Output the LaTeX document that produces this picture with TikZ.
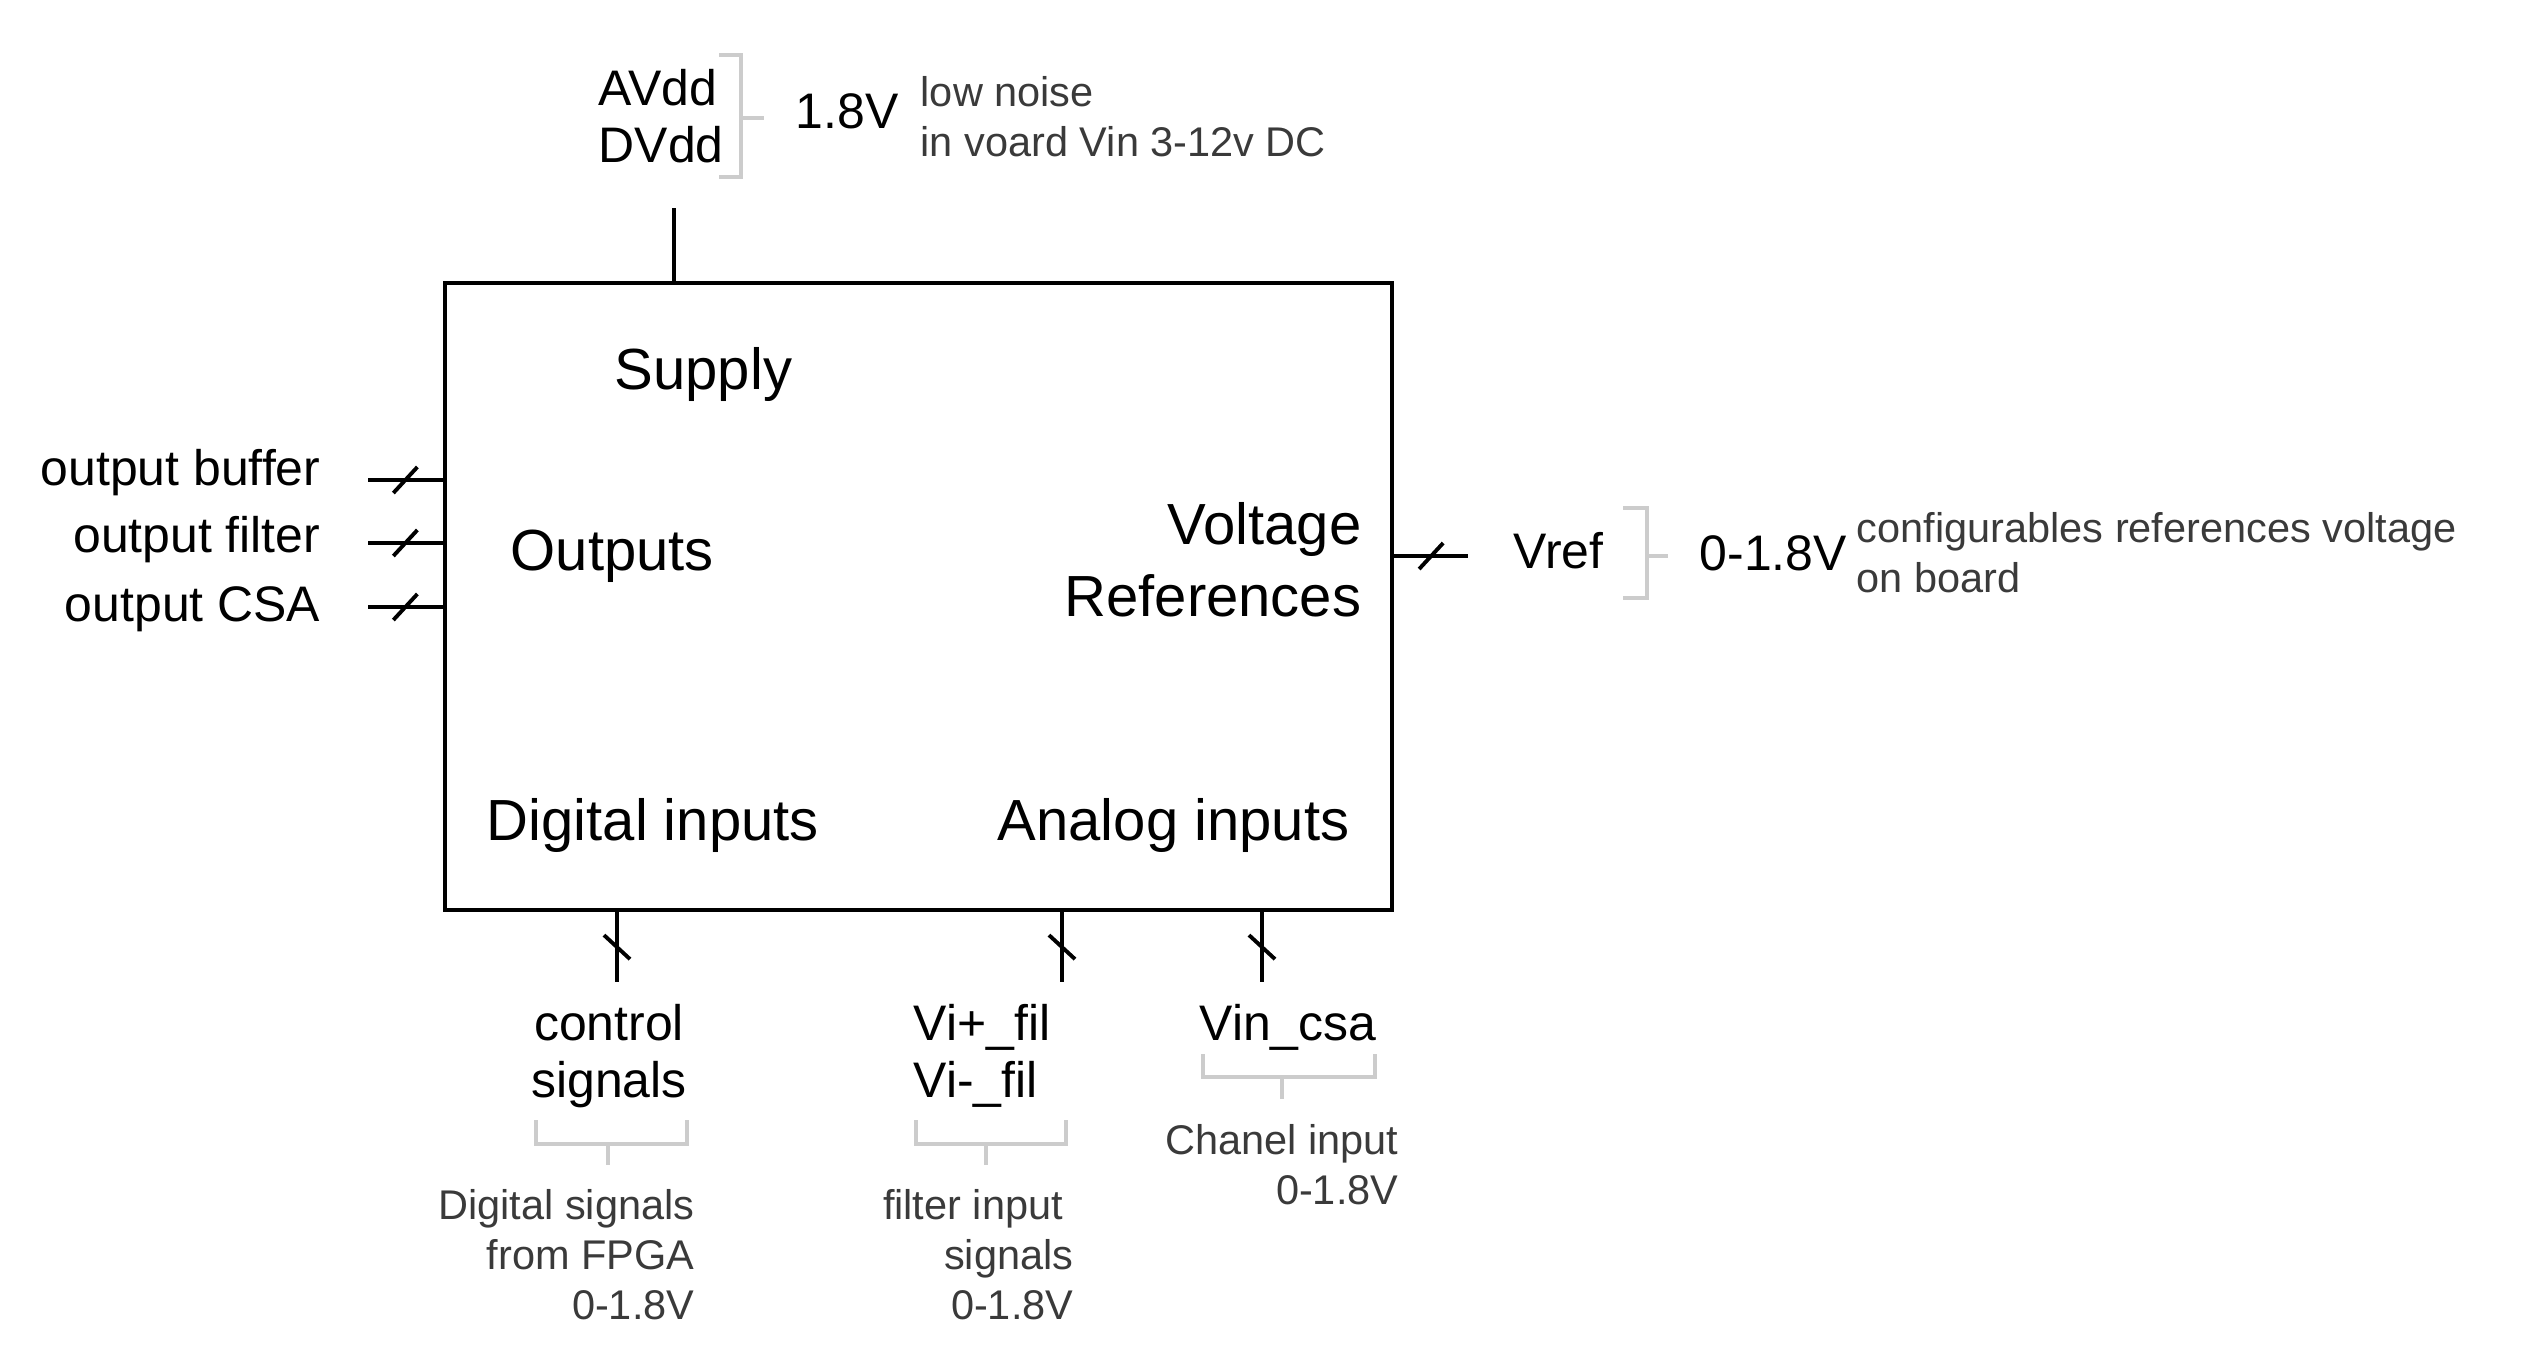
\documentclass[tikz,border=0pt]{standalone}
\usepackage{fontspec}
\setmainfont{Liberation Sans}
\usetikzlibrary{decorations.markings}
\definecolor{notegray}{HTML}{3A3A3A}
\definecolor{bracegray}{HTML}{CCCCCC}

\begin{document}
\begin{tikzpicture}[
    x=0.01cm, y=-0.01cm,
    block/.style={draw=black, line width=1.15pt, minimum width=9.47cm, minimum height=6.27cm, inner sep=0pt},
    wire/.style={line width=1.1pt},
    bus/.style={wire, postaction={decorate, decoration={markings,
        mark=at position 0.5 with {\draw[wire] (-0.12cm,-0.13cm) -- (0.12cm,0.13cm);}}}},
    sig/.style={font=\fontsize{14.2}{16.2}\selectfont, inner sep=0pt},
    part/.style={font=\fontsize{16.5}{20.2}\selectfont, inner sep=0pt},
    note/.style={font=\fontsize{11.8}{14.2}\selectfont, text=notegray, inner sep=0pt},
    brace/.style={draw=bracegray, line width=0.95pt}
]
    \useasboundingbox (0,0) rectangle (2531,1369);

    % --- Main block ---
    \node[block] (box) at (918.5,596.5) {};
    \node[part, anchor=base west] (supply) at (614,389) {Supply};
    \node[part, anchor=base west] (outputs) at (510,570) {Outputs};
    \node[part, anchor=base east, align=right] (refs) at (1362,616) {Voltage\\References};
    \node[part, anchor=base west] (digital) at (486,840) {Digital inputs};
    \node[part, anchor=base east] (analog) at (1350,840) {Analog inputs};

    % --- Supply (top) ---
    \coordinate (sup) at (674,208);
    \draw[wire] (sup) -- (sup |- box.north);
    \node[sig, anchor=base west, align=left] (vdd) at (598,162) {AVdd\\DVdd};
    \draw[brace] (719,55) -| (741,177) -- (719,177);
    \draw[brace] (741,118) -- (764,118);
    \node[sig, anchor=base west] (vdd-val) at (795,128) {1.8V};
    \node[note, anchor=base west, align=left] (vdd-note) at (920,156) {low noise\\in voard Vin 3-12v DC};

    % --- Outputs (left) ---
    \foreach \name/\y/\ty/\txt in {obuf/480/485/output buffer, ofil/543/552/output filter, ocsa/607/621/output CSA} {
        \coordinate (\name) at (368,\y);
        \draw[bus] (\name) -- (\name -| box.west);
        \node[sig, anchor=base east] (\name-lbl) at (321,\ty) {\txt};
    }

    % --- Voltage references (right) ---
    \coordinate (vout) at (1468,556);
    \draw[bus] (vout -| box.east) -- (vout);
    \node[sig, anchor=base west] (vref) at (1513,568) {Vref};
    \draw[brace] (1623,508) -| (1647,598) -- (1623,598);
    \draw[brace] (1647,556) -- (1668,556);
    \node[sig, anchor=base west] (vref-val) at (1699,570) {0-1.8V};
    \node[note, anchor=base west, align=left] (vref-note) at (1856,592) {configurables references voltage\\on board};

    % --- Inputs (bottom) ---
    \foreach \name/\x in {ctrl/617, vfil/1062, vcsa/1262} {
        \coordinate (\name) at (\x,982);
        \draw[bus] (\name |- box.south) -- (\name);
    }
    \node[sig, anchor=base, align=center] (ctrl-lbl) at (609,1097) {control\\signals};
    \node[sig, anchor=base west, align=left] (vfil-lbl) at (913,1097) {Vi+\_fil\\Vi-\_fil};
    \node[sig, anchor=base west] (vcsa-lbl) at (1199,1040) {Vin\_csa};

    \draw[brace] (536,1120) |- (687,1144) -- (687,1120);
    \draw[brace] (608,1144) -- (608,1165);
    \draw[brace] (916,1120) |- (1066,1144) -- (1066,1120);
    \draw[brace] (986,1144) -- (986,1165);
    \draw[brace] (1203,1054) |- (1375,1077) -- (1375,1054);
    \draw[brace] (1282,1077) -- (1282,1099);

    \node[note, anchor=base east, align=right] (ctrl-note) at (695,1319) {Digital signals\\from FPGA\\0-1.8V};
    \node[note, anchor=base east, align=right] (vfil-note) at (1074,1319) {filter input\kern0.25em\\signals\\0-1.8V};
    \node[note, anchor=base east, align=right] (vcsa-note) at (1399,1204) {Chanel input\\0-1.8V};
\end{tikzpicture}
\end{document}
